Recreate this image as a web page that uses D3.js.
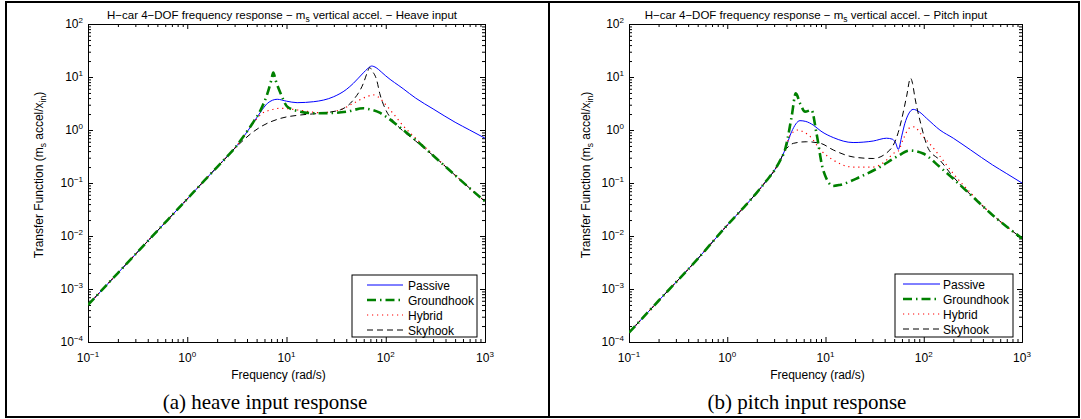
<!DOCTYPE html>
<html>
<head>
<meta charset="utf-8">
<script src="https://cdn.jsdelivr.net/npm/d3@7"></script>
<style>
  body { margin: 0; background: #fff; }
  svg { display: block; font-family: "Liberation Sans", Arial, sans-serif; }
</style>
</head>
<body>
<div id="container"></div>
<script>
/* DATA (rad/s vs. magnitude) */
const seriesNames = ["Passive", "Groundhook", "Hybrid", "Skyhook"];
const xTickExps = [-1, 0, 1, 2, 3];
const yTickExps = [-4, -3, -2, -1, 0, 1, 2];

// (a) heave input
const heaveLowF = [0.1, 0.2, 0.5, 1, 1.5, 2, 2.5, 3];
const heaveLowV = [5e-4, 2e-3, 0.0125, 0.05, 0.113, 0.2, 0.31, 0.45];

const heavePassiveF = [3.5, 4.72, 5.5, 6.43, 8.07, 10, 12.8, 18.8, 29.9, 40, 47.2, 59.5, 66, 72, 80, 90, 100, 150, 200, 300, 500, 700, 1000];
const heavePassiveV = [0.65, 1.44, 2.2, 3.19, 3.8, 3.5, 3.28, 3.42, 4.25, 5.8, 7.6, 12, 14.5, 16.1, 15, 12.5, 10.5, 6, 4, 2.5, 1.4, 1.0, 0.7];

const heaveGroundF = [3.5, 4.5, 5.5, 6.43, 7.0, 7.36, 7.8, 8.73, 10.2, 13.8, 18.8, 30, 40.6, 59.5, 69, 87, 100, 150, 200, 300, 500, 700, 1000];
const heaveGroundV = [0.66, 1.3, 2.4, 4.9, 8.5, 12.1, 8.5, 4.9, 2.75, 2.22, 2.07, 2.1, 2.22, 2.57, 2.46, 2.12, 1.8, 1.0, 0.65, 0.33, 0.14, 0.08, 0.045];

const heaveHybridF = [3.5, 4.5, 5.7, 7, 8.73, 12.8, 21.9, 34.8, 47.2, 64.3, 75, 87, 100, 120, 150, 200, 300, 500, 700, 1000];
const heaveHybridV = [0.65, 1.25, 2.07, 2.4, 2.57, 2.4, 2.12, 2.4, 3.19, 4.25, 4.6, 4.0, 3.0, 2.0, 1.2, 0.7, 0.34, 0.14, 0.08, 0.045];

const heaveSkyF = [3.47, 4.36, 5.5, 8.73, 13.8, 21.9, 34.8, 47.2, 59.5, 65, 69, 73, 81, 87, 100, 120, 150, 200, 300, 500, 700, 1000];
const heaveSkyV = [0.58, 0.85, 1.15, 1.66, 1.92, 2.07, 2.4, 3.7, 7.6, 12, 15.1, 13, 8.8, 4.9, 2.4, 1.45, 0.95, 0.62, 0.33, 0.14, 0.08, 0.045];

// (b) pitch input
const pitchLowF = [0.1, 0.2, 0.5, 1, 1.5, 2, 2.5, 3, 3.5];
const pitchLowV = [1.5e-4, 6e-4, 3.7e-3, 0.016, 0.036, 0.066, 0.11, 0.17, 0.28];

const pitchPassiveF = [3.87, 4.52, 5.5, 6.3, 7.5, 9, 12, 19.1, 30.6, 41.8, 48, 52, 55, 60, 64.3, 70, 78, 90, 107, 146, 200, 300, 500, 700, 1000];
const pitchPassiveV = [0.42, 0.93, 1.5, 1.45, 1.24, 0.95, 0.72, 0.58, 0.62, 0.7, 0.67, 0.56, 0.43, 0.8, 1.34, 2.0, 2.45, 2.2, 1.66, 1.0, 0.7, 0.42, 0.22, 0.15, 0.1];

const pitchGroundF = [3.87, 4.02, 4.52, 4.99, 5.5, 6.2, 7.2, 8.1, 9.46, 12, 14, 22.4, 35.7, 52.8, 72, 98.6, 146, 200, 300, 500, 700, 1000];
const pitchGroundV = [0.42, 0.56, 1.78, 4.9, 3.2, 2.22, 2.38, 0.86, 0.176, 0.088, 0.092, 0.13, 0.2, 0.31, 0.41, 0.36, 0.2, 0.12, 0.06, 0.025, 0.015, 0.009];

const pitchHybridF = [3.87, 4.37, 5.3, 5.9, 7, 8.9, 12, 19.1, 30.6, 41.8, 48.9, 55, 62, 72, 80, 93, 126, 150, 200, 300, 500, 700, 1000];
const pitchHybridV = [0.42, 0.8, 1.0, 0.93, 0.75, 0.42, 0.27, 0.2, 0.2, 0.27, 0.36, 0.4, 0.68, 1.1, 1.15, 0.85, 0.45, 0.3, 0.15, 0.065, 0.025, 0.015, 0.009];

const pitchSkyF = [3.87, 4.02, 4.7, 6.4, 8.9, 12, 19.1, 30.6, 45.2, 55, 59.4, 66.8, 73.3, 77, 81, 93, 111, 146, 200, 300, 500, 700, 1000];
const pitchSkyV = [0.42, 0.45, 0.56, 0.6, 0.56, 0.42, 0.31, 0.29, 0.42, 0.9, 1.55, 4.25, 9.5, 7.5, 4.25, 1.34, 0.45, 0.27, 0.13, 0.06, 0.025, 0.015, 0.009];

/* LAYOUT */
const width = 1081, height = 419;
const plotTop = 24, plotBottom = 342;

const styles = [
  { color: "#0000ff", width: 1, dash: null },
  { color: "#008000", width: 2.6, dash: "9,4,1.5,4" },
  { color: "#ff0000", width: 1.2, dash: "1.2,3.8" },
  { color: "#000000", width: 1, dash: "6,4" }
];

const join = (a, b) => a.map((f, i) => ({ f, v: b[i] }));

const panels = [
  {
    left: 88, right: 485, labelX: 43, titleX: 282, capX: 265,
    title: "Heave input", caption: "(a) heave input response",
    legend: { x: 352, y: 275, w: 125, h: 62, l1: 367, l2: 403, tx: 408 },
    series: [
      join(heaveLowF.concat(heavePassiveF), heaveLowV.concat(heavePassiveV)),
      join(heaveLowF.concat(heaveGroundF), heaveLowV.concat(heaveGroundV)),
      join(heaveLowF.concat(heaveHybridF), heaveLowV.concat(heaveHybridV)),
      join(heaveLowF.concat(heaveSkyF), heaveLowV.concat(heaveSkyV))
    ]
  },
  {
    left: 629, right: 1022, labelX: 590, titleX: 816, capX: 807,
    title: "Pitch input", caption: "(b) pitch input response",
    legend: { x: 895, y: 274, w: 118, h: 63, l1: 903, l2: 940, tx: 943 },
    series: [
      join(pitchLowF.concat(pitchPassiveF), pitchLowV.concat(pitchPassiveV)),
      join(pitchLowF.concat(pitchGroundF), pitchLowV.concat(pitchGroundV)),
      join(pitchLowF.concat(pitchHybridF), pitchLowV.concat(pitchHybridV)),
      join(pitchLowF.concat(pitchSkyF), pitchLowV.concat(pitchSkyV))
    ]
  }
];

const svg = d3.select("#container").append("svg")
  .attr("width", width).attr("height", height);

// outer frame and divider
svg.append("rect").attr("x", 6).attr("y", 2).attr("width", 1073).attr("height", 415)
  .attr("fill", "none").attr("stroke", "#000").attr("stroke-width", 2);
svg.append("line").attr("x1", 549).attr("x2", 549).attr("y1", 2).attr("y2", 417)
  .attr("stroke", "#000").attr("stroke-width", 2);

const supText = (sel, exp) => {
  sel.append("tspan").text("10");
  sel.append("tspan").attr("dy", -5).attr("font-size", 8)
    .text(String(exp).replace("-", "\u2212"));
};

panels.forEach((p, pi) => {
  const x = d3.scaleLog().domain([0.1, 1000]).range([p.left, p.right]);
  const y = d3.scaleLog().domain([1e-4, 1e2]).range([plotBottom, plotTop]);
  const g = svg.append("g");

  const majorX = xTickExps.map(e => Math.pow(10, e));
  const majorY = yTickExps.map(e => Math.pow(10, e));
  const isMajor = (list, t) => list.some(m => Math.abs(m - t) / m < 1e-6);
  const minorX = x.ticks().filter(t => !isMajor(majorX, t));
  const minorY = y.ticks().filter(t => !isMajor(majorY, t));

  // ticks on all four sides, pointing in
  const axes = [
    [d3.axisBottom(x), majorX, minorX, `translate(0,${plotBottom})`],
    [d3.axisTop(x), majorX, minorX, `translate(0,${plotTop})`],
    [d3.axisLeft(y), majorY, minorY, `translate(${p.left},0)`],
    [d3.axisRight(y), majorY, minorY, `translate(${p.right},0)`]
  ];
  axes.forEach(([ax, maj, min, tr]) => {
    g.append("g").attr("transform", tr)
      .call(ax.tickValues(maj).tickSizeInner(-5).tickSizeOuter(0).tickFormat(""));
    g.append("g").attr("transform", tr)
      .call(ax.tickValues(min).tickSizeInner(-3).tickSizeOuter(0).tickFormat(""));
  });
  g.selectAll(".domain, .tick line").attr("stroke", "#000").attr("stroke-width", 1);

  // tick labels
  majorY.forEach((v, i) => {
    g.append("text").attr("x", p.left - 5).attr("y", y(v) + 4)
      .attr("text-anchor", "end").attr("font-size", 12)
      .call(supText, yTickExps[i]);
  });
  majorX.forEach((f, i) => {
    g.append("text").attr("x", x(f)).attr("y", 362)
      .attr("text-anchor", "middle").attr("font-size", 12)
      .call(supText, xTickExps[i]);
  });

  // curves
  const clipId = "clip" + pi;
  g.append("clipPath").attr("id", clipId).append("rect")
    .attr("x", p.left).attr("y", plotTop).attr("width", p.right - p.left).attr("height", plotBottom - plotTop);

  const line = d3.line().x(d => x(d.f)).y(d => y(d.v)).curve(d3.curveMonotoneX);
  // draw order: passive, hybrid, skyhook, groundhook on top
  [0, 2, 3, 1].forEach(si => {
    const s = styles[si];
    g.append("path").datum(p.series[si])
      .attr("clip-path", `url(#${clipId})`)
      .attr("d", line)
      .attr("fill", "none")
      .attr("stroke", s.color)
      .attr("stroke-width", s.width)
      .attr("stroke-dasharray", s.dash);
  });

  // title
  const t = g.append("text").attr("x", p.titleX).attr("y", 19)
    .attr("text-anchor", "middle").attr("font-size", 11.5);
  t.append("tspan").text("H\u2212car 4\u2212DOF frequency response \u2212 m");
  t.append("tspan").attr("dy", 3).attr("font-size", 8.5).text("s");
  t.append("tspan").attr("dy", -3).text(" vertical accel. \u2212 " + p.title);

  // axis labels
  g.append("text").attr("x", (p.left + p.right) / 2 - 8).attr("y", 379)
    .attr("text-anchor", "middle").attr("font-size", 12).text("Frequency (rad/s)");

  const yl = g.append("text")
    .attr("transform", `translate(${p.labelX},${(plotTop + plotBottom) / 2 - 8}) rotate(-90)`)
    .attr("text-anchor", "middle").attr("font-size", 12);
  yl.append("tspan").text("Transfer Function (m");
  yl.append("tspan").attr("dy", 3).attr("font-size", 8.5).text("s");
  yl.append("tspan").attr("dy", -3).text(" accel/x");
  yl.append("tspan").attr("dy", 3).attr("font-size", 8.5).text("in");
  yl.append("tspan").attr("dy", -3).text(")");

  // legend
  const L = p.legend;
  const lg = g.append("g");
  lg.append("rect").attr("x", L.x).attr("y", L.y).attr("width", L.w).attr("height", L.h)
    .attr("fill", "#fff").attr("stroke", "#000").attr("stroke-width", 1);
  seriesNames.forEach((name, i) => {
    const yy = L.y + 10 + i * 15;
    const s = styles[i];
    lg.append("line").attr("x1", L.l1).attr("x2", L.l2).attr("y1", yy).attr("y2", yy)
      .attr("stroke", s.color).attr("stroke-width", s.width).attr("stroke-dasharray", s.dash);
    lg.append("text").attr("x", L.tx).attr("y", yy + 4.5).attr("font-size", 12).text(name);
  });

  // caption
  svg.append("text").attr("x", p.capX).attr("y", 409)
    .attr("text-anchor", "middle")
    .attr("font-family", "'Liberation Serif', 'Times New Roman', serif")
    .attr("font-size", 21).text(p.caption);
});
</script>
</body>
</html>
